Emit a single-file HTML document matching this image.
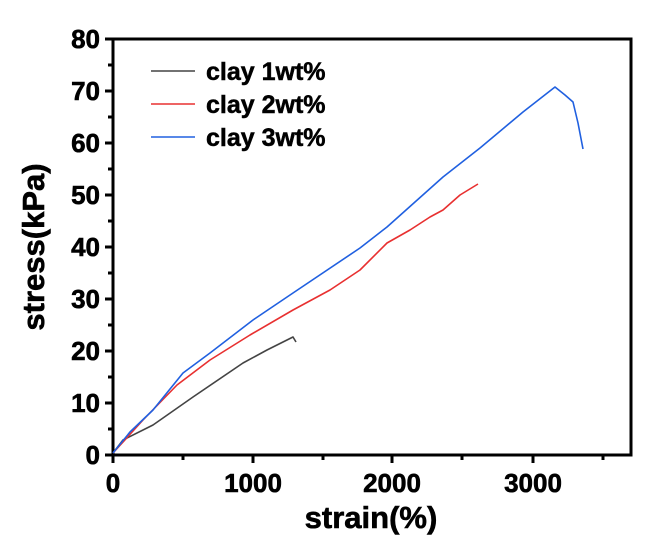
<!DOCTYPE html>
<html><head><style>body{margin:0;background:#fff}</style></head><body>
<svg width="661" height="541" viewBox="0 0 661 541" xmlns="http://www.w3.org/2000/svg" font-family="Liberation Sans, Arial, sans-serif" font-weight="bold">
<rect width="661" height="541" fill="#fff"/>
<g stroke="#000" stroke-width="3" fill="none">
<rect x="113" y="39" width="518" height="416"/>
<path d="M113 455v8M183 455v5M253 455v8M323 455v5M392 455v8M462 455v5M533 455v8M603 455v5"/>
<path d="M113 455h-8M113 429h-5M113 403h-8M113 377h-5M113 351h-8M113 325h-5M113 299h-8M113 273h-5M113 247h-8M113 221h-5M113 195h-8M113 169h-5M113 143h-8M113 117h-5M113 91h-8M113 65h-5M113 39h-8"/>
</g>
<g font-size="26" text-anchor="end" stroke="#000" stroke-width="0.6">
<text x="100" y="464">0</text><text x="100" y="412">10</text><text x="100" y="360">20</text><text x="100" y="308">30</text><text x="100" y="256">40</text><text x="100" y="204">50</text><text x="100" y="152">60</text><text x="100" y="100">70</text><text x="100" y="48">80</text>
</g>
<g font-size="26" text-anchor="middle" stroke="#000" stroke-width="0.6">
<text x="113" y="492">0</text><text x="253" y="492">1000</text><text x="392" y="492">2000</text><text x="533" y="492">3000</text>
</g>
<text x="371" y="528" font-size="31" text-anchor="middle" stroke="#000" stroke-width="0.6">strain(%)</text>
<text transform="translate(44,247) rotate(-90)" font-size="31" text-anchor="middle" stroke="#000" stroke-width="0.6">stress(kPa)</text>
<g fill="none" stroke-width="1.6" stroke-linejoin="round">
<polyline stroke="#444" points="113,453 123,440 153,425 193,397 243,363 267,350 293,337 296,342"/>
<polyline stroke="#e83030" points="113,453 143,420 177,385 210,360 250,335 293,310 330,290 360,270 387,243 410,230 430,217 443,210 460,195 478,184"/>
<polyline stroke="#2060e0" points="113,453 130,432 153,410 183,373 210,353 253,320 293,293 360,248 387,227 443,177 480,148 523,112 555,87 565,95 573,102 578,123 583,149"/>
</g>
<line x1="151" y1="71" x2="195" y2="71" stroke="#444" stroke-width="1.6"/>
<line x1="151" y1="104" x2="195" y2="104" stroke="#e83030" stroke-width="1.6"/>
<line x1="151" y1="137" x2="195" y2="137" stroke="#2060e0" stroke-width="1.6"/>
<g font-size="25" stroke="#000" stroke-width="0.5">
<text x="206" y="80">clay 1wt%</text><text x="206" y="113">clay 2wt%</text><text x="206" y="146">clay 3wt%</text>
</g>
</svg>
</body></html>
